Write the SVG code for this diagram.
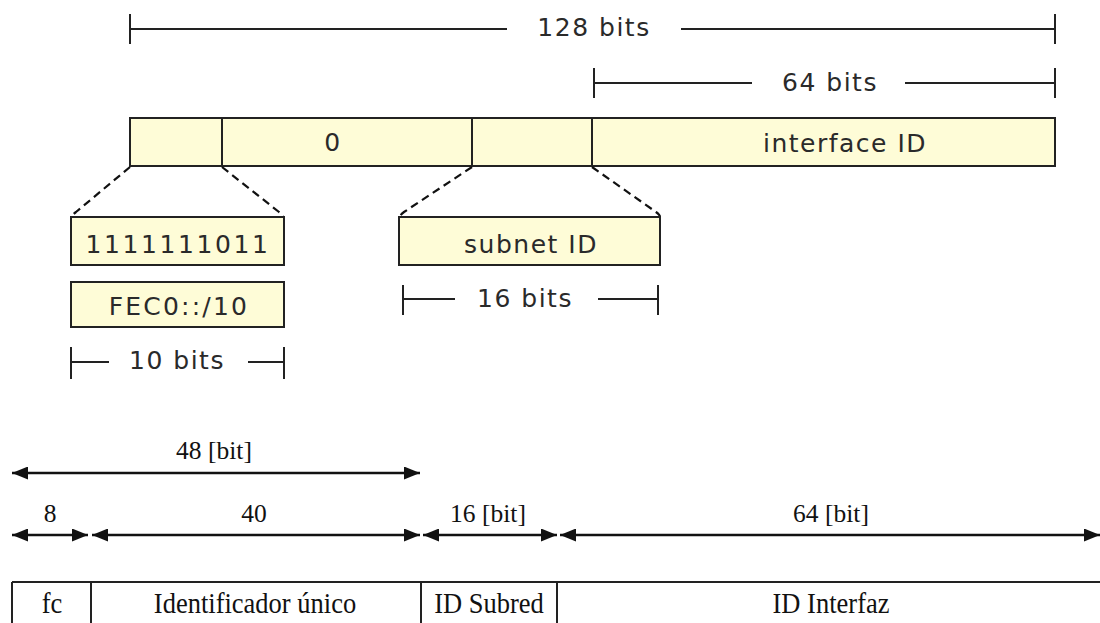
<svg xmlns="http://www.w3.org/2000/svg" width="1100" height="623" viewBox="0 0 1100 623">
<style>
.sans{font-family:"DejaVu Sans","Liberation Sans",sans-serif;font-size:25px;fill:#2a2a2a;letter-spacing:1.5px;text-anchor:middle}
.serif{font-family:"Liberation Serif","Times New Roman",serif;font-size:25.5px;fill:#111;text-anchor:middle}
.cell{font-family:"Liberation Serif","Times New Roman",serif;font-size:26.5px;fill:#111;text-anchor:middle}
.dim{stroke:#222;stroke-width:2;fill:none}
.box{fill:#FEFCD7;stroke:#222;stroke-width:2}
.dash{stroke:#111;stroke-width:2.2;stroke-dasharray:8 5;fill:none}
.arr{stroke:#111;stroke-width:2.5;fill:none;marker-start:url(#ah);marker-end:url(#ah)}
.tbl{stroke:#222;stroke-width:2;fill:none}
</style>
<defs>
<marker id="ah" viewBox="0 0 16 13" refX="16" refY="6.5" markerWidth="16" markerHeight="13" markerUnits="userSpaceOnUse" orient="auto-start-reverse"><path d="M0,0 L16,6.5 L0,13 Z" fill="#111"/></marker>
</defs>
<rect width="1100" height="623" fill="#fff"/>

<g id="dim-128">
<path class="dim" d="M130,14 V44 M130,29 H507 M681,29 H1055 M1055,14 V44"/>
<text class="sans" x="594" y="36">128 bits</text>
</g>
<g id="dim-64">
<path class="dim" d="M594,68 V98 M594,83 H752 M905,83 H1055 M1055,68 V98"/>
<text class="sans" x="830" y="91">64 bits</text>
</g>

<g id="address-bar">
<rect class="box" x="130" y="118" width="925" height="48"/>
<path class="dim" d="M222,118 V166 M472,118 V166 M592,118 V166"/>
<text class="sans" x="333" y="151">0</text>
<text class="sans" x="845" y="152">interface ID</text>
</g>

<g id="connectors">
<path class="dash" d="M130,167 L76,212 Q72,215 72,217"/>
<path class="dash" d="M222,167 L279,212 Q283,215 283,217"/>
<path class="dash" d="M472,167 L404,212 Q400,215 400,217"/>
<path class="dash" d="M592,167 L656,212 Q660,215 660,217"/>
</g>

<g id="prefix-bits">
<rect class="box" x="71" y="217" width="213" height="48"/>
<text class="sans" x="178" y="253" style="letter-spacing:2.6px">1111111011</text>
</g>
<g id="prefix-hex">
<rect class="box" x="71" y="282" width="213" height="45"/>
<text class="sans" x="179" y="315" style="letter-spacing:2.2px">FEC0::/10</text>
</g>
<g id="dim-10">
<path class="dim" d="M71,347 V379 M71,362 H109 M248,362 H284 M284,347 V379"/>
<text class="sans" x="177" y="369">10 bits</text>
</g>

<g id="subnet">
<rect class="box" x="399" y="217" width="261" height="48"/>
<text class="sans" x="531" y="253">subnet ID</text>
</g>
<g id="dim-16">
<path class="dim" d="M403,285 V315 M403,299 H455 M598,299 H658 M658,285 V315"/>
<text class="sans" x="525" y="307">16 bits</text>
</g>

<g id="bottom-arrows">
<line class="arr" x1="12" y1="473" x2="420" y2="473"/>
<text class="serif" x="214" y="459">48 [bit]</text>
<line class="arr" x1="12" y1="535" x2="88" y2="535"/>
<text class="serif" x="50" y="522">8</text>
<line class="arr" x1="92" y1="535" x2="420" y2="535"/>
<text class="serif" x="254" y="522">40</text>
<line class="arr" x1="423" y1="535" x2="557" y2="535"/>
<text class="serif" x="488" y="522">16 [bit]</text>
<line class="arr" x1="560" y1="535" x2="1100" y2="535"/>
<text class="serif" x="831" y="522">64 [bit]</text>
</g>

<g id="table">
<path class="tbl" d="M12,582 H1100 M12,582 V623 M91,582 V623 M421,582 V623 M557,582 V623"/>
<text class="cell" transform="translate(52,613) scale(1,1.12)">fc</text>
<text class="cell" transform="translate(255,613) scale(1,1.12)">Identificador único</text>
<text class="cell" transform="translate(489,613) scale(1,1.12)">ID Subred</text>
<text class="cell" transform="translate(831,613) scale(1,1.12)">ID Interfaz</text>
</g>
</svg>
